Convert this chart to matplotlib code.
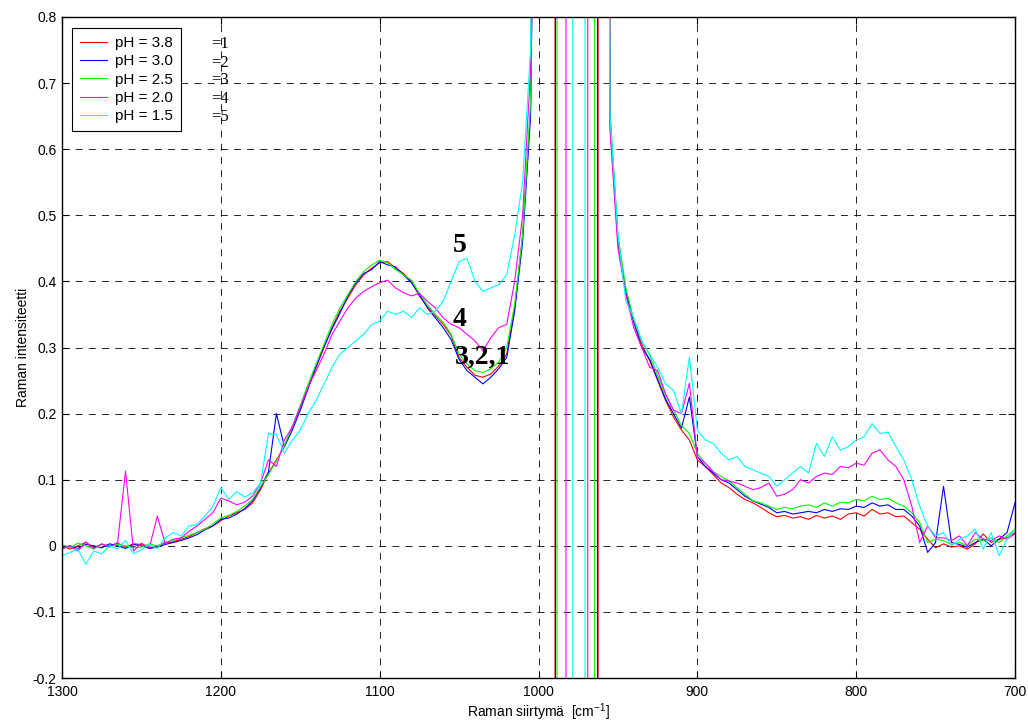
import matplotlib
matplotlib.use("Agg")
import matplotlib.pyplot as plt
import numpy as np
from matplotlib.ticker import FuncFormatter

plt.rcParams['font.family'] = ['Liberation Sans', 'DejaVu Sans']
plt.rcParams['axes.unicode_minus'] = False
plt.rcParams['lines.scale_dashes'] = False
plt.rcParams['mathtext.default'] = 'regular'

NARROW = ['Liberation Sans Narrow', 'DejaVu Sans Condensed', 'Liberation Sans']

# wavenumber grid (cm-1), left wing 1300..1000 and right wing 955..700
x_left = np.arange(1300, 995, -5)
x_right = np.arange(955, 695, -5)

labels = ['pH = 3.8', 'pH = 3.0', 'pH = 2.5', 'pH = 2.0', 'pH = 1.5']
colors = ['#ff0000', '#0000ff', '#00ff00', '#ff00ff', '#00ffff']

red_left = [0.0, -0.005, 0.0, 0.005, -0.003, 0.002, 0.0, 0.004, -0.002, 0.003,
            0.002, -0.003, 0.0, 0.004, 0.006, 0.01, 0.014, 0.02, 0.026, 0.03,
            0.038, 0.045, 0.05, 0.055, 0.065, 0.085, 0.11, 0.13, 0.15, 0.18,
            0.21, 0.24, 0.27, 0.3, 0.33, 0.355, 0.375, 0.395, 0.41, 0.42,
            0.428, 0.43, 0.42, 0.412, 0.4, 0.378, 0.362, 0.348, 0.335, 0.318,
            0.285, 0.27, 0.258, 0.255, 0.26, 0.272, 0.29, 0.36, 0.47, 0.66,
            1.6]
blue_left = [-0.003, 0.0, -0.004, 0.002, 0.0, -0.003, 0.003, 0.0, -0.004, 0.002,
             0.0, -0.004, -0.002, 0.002, 0.005, 0.008, 0.012, 0.017, 0.024, 0.03,
             0.04, 0.042, 0.048, 0.056, 0.068, 0.088, 0.112, 0.2, 0.15, 0.175,
             0.205, 0.238, 0.272, 0.302, 0.328, 0.352, 0.378, 0.398, 0.412, 0.418,
             0.43, 0.425, 0.422, 0.41, 0.398, 0.38, 0.36, 0.345, 0.33, 0.312,
             0.282, 0.265, 0.255, 0.245, 0.255, 0.268, 0.285, 0.355, 0.46, 0.65,
             1.6]
green_left = [0.002, -0.003, 0.004, 0.0, -0.005, 0.003, -0.002, 0.002, 0.0, -0.003,
              -0.002, 0.003, 0.0, 0.006, 0.008, 0.012, 0.016, 0.02, 0.025, 0.033,
              0.042, 0.046, 0.052, 0.06, 0.07, 0.09, 0.108, 0.128, 0.152, 0.18,
              0.212, 0.245, 0.275, 0.305, 0.335, 0.36, 0.38, 0.4, 0.415, 0.425,
              0.432, 0.428, 0.418, 0.41, 0.402, 0.382, 0.365, 0.35, 0.338, 0.32,
              0.29, 0.275, 0.265, 0.262, 0.268, 0.278, 0.3, 0.365, 0.47, 0.67,
              1.6]
magenta_left = [-0.005, 0.0, -0.008, 0.006, -0.004, 0.003, -0.002, 0.005, 0.113, -0.008,
                0.004, -0.003, 0.045, 0.003, 0.01, 0.012, 0.022, 0.03, 0.04, 0.05,
                0.072, 0.068, 0.062, 0.066, 0.075, 0.095, 0.13, 0.12, 0.16, 0.18,
                0.21, 0.24, 0.265, 0.29, 0.32, 0.34, 0.36, 0.375, 0.385, 0.392,
                0.398, 0.402, 0.39, 0.383, 0.378, 0.382, 0.37, 0.36, 0.345, 0.335,
                0.33, 0.32, 0.31, 0.295, 0.315, 0.33, 0.335, 0.4, 0.5, 0.72,
                1.8]
cyan_left = [-0.015, -0.01, -0.005, -0.028, -0.008, -0.012, 0.0, -0.005, 0.008, -0.012,
             -0.006, 0.002, -0.004, 0.012, 0.02, 0.015, 0.03, 0.032, 0.045, 0.06,
             0.088, 0.07, 0.082, 0.074, 0.08, 0.095, 0.17, 0.168, 0.14, 0.16,
             0.175, 0.2, 0.22, 0.245, 0.27, 0.29, 0.3, 0.31, 0.32, 0.335,
             0.34, 0.355, 0.35, 0.355, 0.345, 0.36, 0.35, 0.355, 0.37, 0.4,
             0.43, 0.435, 0.4, 0.385, 0.39, 0.395, 0.41, 0.47, 0.55, 0.75,
             2.0]

red_right = [0.64, 0.46, 0.38, 0.34, 0.305, 0.28, 0.25, 0.22, 0.195, 0.175,
             0.16, 0.13, 0.12, 0.108, 0.095, 0.088, 0.078, 0.07, 0.065, 0.058,
             0.05, 0.044, 0.046, 0.042, 0.044, 0.04, 0.046, 0.042, 0.045, 0.04,
             0.048, 0.05, 0.045, 0.055, 0.048, 0.05, 0.044, 0.045, 0.035, 0.025,
             0.01, -0.003, 0.003, -0.002, 0.0, -0.005, 0.003, 0.018, 0.005, 0.01,
             0.012, 0.02]
blue_right = [0.65, 0.465, 0.385, 0.338, 0.3, 0.282, 0.252, 0.222, 0.2, 0.178,
              0.225, 0.135, 0.12, 0.11, 0.1, 0.095, 0.085, 0.075, 0.068, 0.063,
              0.058, 0.05, 0.052, 0.048, 0.05, 0.052, 0.05, 0.055, 0.052, 0.056,
              0.055, 0.06, 0.058, 0.065, 0.06, 0.062, 0.055, 0.055, 0.045, 0.03,
              -0.01, 0.005, 0.09, 0.005, 0.002, -0.002, 0.005, 0.01, 0.0, 0.01,
              0.02, 0.065]
green_right = [0.66, 0.47, 0.39, 0.342, 0.31, 0.288, 0.258, 0.228, 0.205, 0.182,
               0.17, 0.14, 0.125, 0.112, 0.105, 0.098, 0.088, 0.078, 0.068, 0.065,
               0.06, 0.055, 0.058, 0.056, 0.06, 0.062, 0.058, 0.065, 0.06, 0.066,
               0.065, 0.07, 0.068, 0.075, 0.07, 0.072, 0.065, 0.06, 0.05, 0.035,
               0.005, 0.01, 0.008, 0.002, 0.005, 0.0, 0.01, 0.008, 0.012, 0.005,
               0.015, 0.025]
magenta_right = [0.63, 0.45, 0.38, 0.33, 0.3, 0.27, 0.265, 0.23, 0.205, 0.2,
                 0.246, 0.135, 0.125, 0.112, 0.1, 0.098, 0.095, 0.09, 0.085, 0.088,
                 0.095, 0.075, 0.078, 0.085, 0.1, 0.095, 0.105, 0.11, 0.108, 0.12,
                 0.118, 0.125, 0.122, 0.14, 0.145, 0.13, 0.12, 0.1, 0.06, 0.005,
                 0.03, 0.012, 0.012, 0.008, 0.015, 0.0, 0.02, 0.01, 0.008, 0.015,
                 0.01, 0.018]
cyan_right = [0.65, 0.47, 0.37, 0.345, 0.31, 0.29, 0.27, 0.245, 0.235, 0.2,
              0.286, 0.175, 0.16, 0.155, 0.14, 0.13, 0.135, 0.12, 0.115, 0.11,
              0.105, 0.09, 0.1, 0.11, 0.12, 0.11, 0.155, 0.135, 0.165, 0.145,
              0.15, 0.16, 0.165, 0.185, 0.17, 0.172, 0.15, 0.13, 0.1, 0.06,
              0.03, 0.015, 0.02, 0.0, 0.01, 0.015, 0.025, -0.005, 0.02, -0.015,
              0.01, 0.025]

# saturated 980 cm-1 band: the signal jumps off scale between these shifts
cut_lo = [989.6, 989.3, 988.3, 982.7, 978.5]
cut_hi = [962.5, 962.8, 964.7, 969.0, 970.7]
sat_y = [10.0, -10.0, -10.0, 10.0]

lefts = [red_left, blue_left, green_left, magenta_left, cyan_left]
rights = [red_right, blue_right, green_right, magenta_right, cyan_right]

fig = plt.figure(figsize=(10.28, 7.22), dpi=100)
ax = fig.add_axes([62 / 1028, 1 - 678 / 722, (1015 - 62) / 1028, (678 - 17) / 722])

for i in range(5):
    xs = np.concatenate([x_left, [cut_lo[i], cut_lo[i], cut_hi[i], cut_hi[i]], x_right])
    ys = np.concatenate([lefts[i], sat_y, rights[i]])
    ax.plot(xs, ys, color=colors[i], lw=0.8, label=labels[i])

ax.set_xlim(1300, 700)
ax.set_ylim(-0.2, 0.8)
ax.set_xticks(np.arange(1300, 699, -100))
ax.set_yticks(np.arange(-0.2, 0.81, 0.1))
ax.yaxis.set_major_formatter(FuncFormatter(lambda v, p: '%g' % round(v, 1)))
ax.tick_params(direction='in', length=5, width=0.8, top=True, right=True, labelsize=10)
ax.tick_params(axis='x', pad=5)
ax.tick_params(axis='y', pad=4)
for lab in ax.get_xticklabels():
    lab.set_family(NARROW)
for s in ax.spines.values():
    s.set_linewidth(1.0)
ax.grid(True, color='k', linestyle=(0, (5, 4.5)), lw=0.6)

ax.set_xlabel('Raman siirtymä  [cm$^{-1}$]', fontsize=10, family=NARROW, labelpad=2)
ax.set_ylabel('Raman intensiteetti', fontsize=10, family=NARROW, labelpad=2)

leg = ax.legend(loc='upper left', bbox_to_anchor=(0.011, 0.983), fontsize=11, handlelength=1.75,
                handletextpad=0.55, labelspacing=0.285, borderpad=0.5, fancybox=False,
                framealpha=1, edgecolor='k', borderaxespad=0)
leg.get_frame().set_linewidth(0.8)

for k, yy in enumerate([0.959, 0.931, 0.904, 0.876, 0.848]):
    ax.text(0.157, yy, '=%d' % (k + 1), transform=ax.transAxes, fontsize=12,
            family='Liberation Serif', va='center', ha='left')

ax.text(1049.5, 0.455, '5', fontsize=20, fontweight='bold', family='Liberation Serif', ha='center', va='center')
ax.text(1050, 0.343, '4', fontsize=20, fontweight='bold', family='Liberation Serif', ha='center', va='center')
ax.text(1035.5, 0.286, '3,2,1', fontsize=20, fontweight='bold', family='Liberation Serif', ha='center', va='center')

fig.savefig('out.png', dpi=100)
